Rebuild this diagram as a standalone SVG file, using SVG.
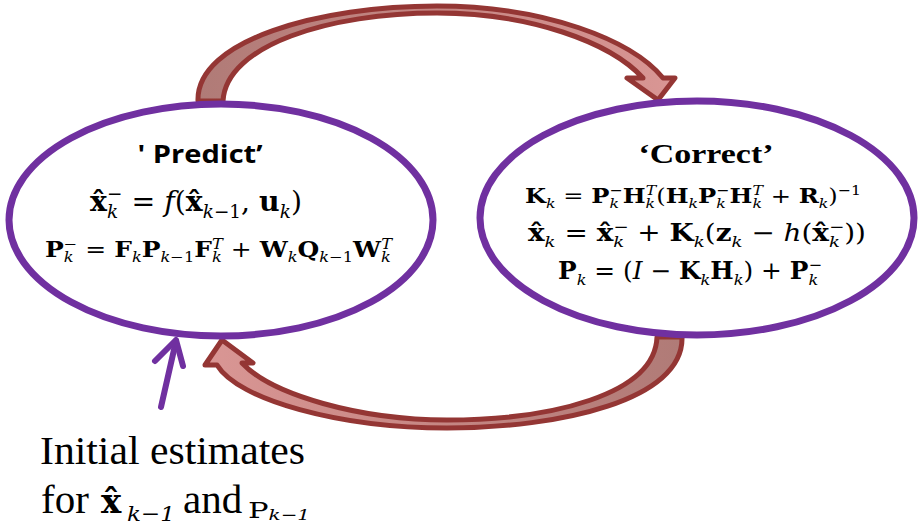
<svg xmlns="http://www.w3.org/2000/svg" width="921" height="531" viewBox="0 0 921 531">
<style>
.node{fill:#fff;stroke:#7030a0;stroke-width:7}
.arr{stroke:#943634;stroke-width:5;stroke-linejoin:round}
.m{font-family:"DejaVu Serif","Liberation Serif",serif;fill:#000}
.t{font-family:"Liberation Serif","Times New Roman",serif;fill:#000}
.b{font-weight:bold}
.i{font-style:italic}
.s{font-size:65%}
.ttl{font-weight:bold;fill:#000;text-anchor:middle}
</style>
<defs>
<linearGradient id="gTop" gradientUnits="userSpaceOnUse" x1="200" y1="0" x2="670" y2="0">
<stop offset="0" stop-color="#b07b77"/><stop offset="0.5" stop-color="#c58683"/><stop offset="1" stop-color="#d99694"/>
</linearGradient>
<linearGradient id="gBot" gradientUnits="userSpaceOnUse" x1="680" y1="0" x2="210" y2="0">
<stop offset="0" stop-color="#b07b77"/><stop offset="0.5" stop-color="#c58683"/><stop offset="1" stop-color="#d99694"/>
</linearGradient>
</defs>
<rect width="921" height="531" fill="#fff"/>

<g id="connectors">
<path class="arr" fill="url(#gTop)" d="M198,101 C196,40 320,6 437,6 C545,6 632,40 663,78 L675,78 L658,100 L627,78 L643,78 C610,42 530,13 437,13 C330,13 226,45 223,101 Z"/>
<path class="arr" fill="url(#gBot)" d="M682,337 C684,400 560,428 447,428 C340,428 238,400 217,365 L205,365 L222,340 L253,363 L242,363 C272,395 360,420 447,420 C550,420 655,395 657,337 Z"/>
<g fill="none" stroke="#7030a0" stroke-width="6" stroke-linecap="round" stroke-linejoin="round">
<line x1="161" y1="407" x2="176" y2="341"/>
<polyline points="155,361 176,340 183,366"/>
</g>
</g>

<g id="predict">
<ellipse class="node" cx="221" cy="220" rx="212" ry="116"/>
<text class="ttl" x="200" y="163" font-family="'Open Sans','Liberation Sans',sans-serif" font-size="25" textLength="125" lengthAdjust="spacingAndGlyphs">' Predict’</text>
<text class="m" x="90" y="211" font-size="28" textLength="212" lengthAdjust="spacingAndGlyphs"><tspan class="b">x̂</tspan><tspan class="s i" dy="7">k</tspan><tspan class="s" dx="-11" dy="-18">−</tspan><tspan dy="11"> = </tspan><tspan class="i">f</tspan><tspan>(</tspan><tspan class="b">x̂</tspan><tspan class="s i" dy="7">k</tspan><tspan class="s">−1</tspan><tspan dy="-7">, </tspan><tspan class="b">u</tspan><tspan class="s i" dy="7">k</tspan><tspan dy="-7">)</tspan></text>
<text class="m" x="45" y="257" font-size="22" textLength="347" lengthAdjust="spacingAndGlyphs"><tspan class="b">P</tspan><tspan class="s i" dy="5">k</tspan><tspan class="s" dx="-8.6" dy="-13">−</tspan><tspan dy="8"> = </tspan><tspan class="b">F</tspan><tspan class="s i" dy="5">k</tspan><tspan class="b" dy="-5">P</tspan><tspan class="s i" dy="5">k</tspan><tspan class="s">−1</tspan><tspan class="b" dy="-5">F</tspan><tspan class="s i" dy="5">k</tspan><tspan class="s i" dx="-8.6" dy="-13">T</tspan><tspan dy="8"> + </tspan><tspan class="b">W</tspan><tspan class="s i" dy="5">k</tspan><tspan class="b" dy="-5">Q</tspan><tspan class="s i" dy="5">k</tspan><tspan class="s">−1</tspan><tspan class="b" dy="-5">W</tspan><tspan class="s i" dy="5">k</tspan><tspan class="s i" dx="-8.6" dy="-13">T</tspan></text>
</g>

<g id="correct">
<ellipse class="node" cx="697" cy="218" rx="217" ry="117"/>
<text class="ttl t" x="706" y="163" font-size="28" textLength="135" lengthAdjust="spacingAndGlyphs">‘Correct’</text>
<text class="m" x="525" y="203" font-size="21" textLength="336" lengthAdjust="spacingAndGlyphs"><tspan class="b">K</tspan><tspan class="s i" dy="5">k</tspan><tspan dy="-5"> = </tspan><tspan class="b">P</tspan><tspan class="s i" dy="5">k</tspan><tspan class="s" dx="-8.2" dy="-13">−</tspan><tspan class="b" dy="8">H</tspan><tspan class="s i" dy="5">k</tspan><tspan class="s i" dx="-8.2" dy="-13">T</tspan><tspan dy="8">(</tspan><tspan class="b">H</tspan><tspan class="s i" dy="5">k</tspan><tspan class="b" dy="-5">P</tspan><tspan class="s i" dy="5">k</tspan><tspan class="s" dx="-8.2" dy="-13">−</tspan><tspan class="b" dy="8">H</tspan><tspan class="s i" dy="5">k</tspan><tspan class="s i" dx="-8.2" dy="-13">T</tspan><tspan dy="8"> + </tspan><tspan class="b">R</tspan><tspan class="s i" dy="5">k</tspan><tspan dy="-5">)</tspan><tspan class="s" dy="-8">−1</tspan></text>
<text class="m" x="528" y="241" font-size="24" textLength="338" lengthAdjust="spacingAndGlyphs"><tspan class="b">x̂</tspan><tspan class="s i" dy="6">k</tspan><tspan dy="-6"> = </tspan><tspan class="b">x̂</tspan><tspan class="s i" dy="6">k</tspan><tspan class="s" dx="-9.4" dy="-15">−</tspan><tspan dy="9"> + </tspan><tspan class="b">K</tspan><tspan class="s i" dy="6">k</tspan><tspan dy="-6">(</tspan><tspan class="b">z</tspan><tspan class="s i" dy="6">k</tspan><tspan dy="-6"> − </tspan><tspan class="i">h</tspan><tspan>(</tspan><tspan class="b">x̂</tspan><tspan class="s i" dy="6">k</tspan><tspan class="s" dx="-9.4" dy="-15">−</tspan><tspan dy="9">))</tspan></text>
<text class="m" x="558" y="279" font-size="24" textLength="264" lengthAdjust="spacingAndGlyphs"><tspan class="b">P</tspan><tspan class="s i" dy="6">k</tspan><tspan dy="-6"> = (</tspan><tspan class="i">I</tspan><tspan> − </tspan><tspan class="b">K</tspan><tspan class="s i" dy="6">k</tspan><tspan class="b" dy="-6">H</tspan><tspan class="s i" dy="6">k</tspan><tspan dy="-6">) + </tspan><tspan class="b">P</tspan><tspan class="s i" dy="6">k</tspan><tspan class="s" dx="-9.4" dy="-15">−</tspan></text>
</g>

<g id="initial">
<text class="t" x="40" y="464" font-size="41" textLength="265" lengthAdjust="spacingAndGlyphs">Initial estimates</text>
<text class="t" x="41" y="513" font-size="41">for</text>
<text class="m b" x="101" y="513" font-size="34">x̂</text>
<text class="m i" x="127" y="521" font-size="21" textLength="48" lengthAdjust="spacingAndGlyphs">k−1</text>
<text class="t" x="183" y="513" font-size="41">and</text>
<text class="m" x="248" y="518" font-size="23" textLength="62" lengthAdjust="spacingAndGlyphs">P<tspan class="i" font-size="15" dy="2">k−1</tspan></text>
</g>
</svg>
